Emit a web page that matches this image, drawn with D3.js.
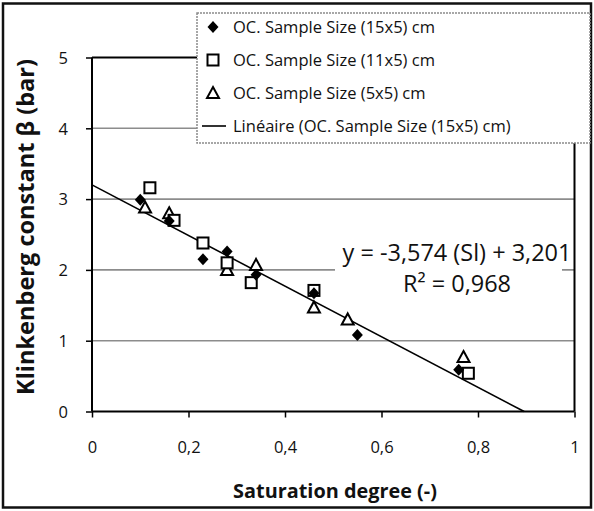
<!DOCTYPE html>
<html><head><meta charset="utf-8">
<script src="https://cdn.jsdelivr.net/npm/d3@7"></script>
<style>body{margin:0;background:#fff}svg{display:block}text{font-family:"Open Sans",Lato,sans-serif}</style>
</head><body><svg id="c" width="594" height="511"></svg>
<script>
const seriesNames = ["OC. Sample Size (15x5) cm","OC. Sample Size (11x5) cm","OC. Sample Size (5x5) cm"];
const s15x = [0.10,0.16,0.23,0.28,0.34,0.46,0.55,0.76];
const s15y = [2.99,2.69,2.15,2.26,1.93,1.67,1.08,0.59];
const s11x = [0.12,0.17,0.23,0.28,0.33,0.46,0.78];
const s11y = [3.16,2.70,2.38,2.10,1.82,1.71,0.54];
const s5x  = [0.11,0.16,0.28,0.34,0.46,0.53,0.77];
const s5y  = [2.88,2.80,2.00,2.07,1.47,1.30,0.77];
const slope = -3.574, intercept = 3.201;
const xTicks = [0,0.2,0.4,0.6,0.8,1];
const yTicks = [0,1,2,3,4,5];
const trendName = "Linéaire (OC. Sample Size (15x5) cm)";
const eqText = "y = -3,574 (Sl) + 3,201";
const r2Text = "R² = 0,968";

const svg = d3.select("#c");
const x = d3.scaleLinear().domain([0,1]).range([92,574.5]);
const y = d3.scaleLinear().domain([0,5]).range([411.5,57.5]);
const fmt = d => String(d).replace(".",",");
function fit(sel, w){ sel.each(function(){ const cur=+this.getAttribute("font-size"); const L=this.getComputedTextLength(); if(L>0) this.setAttribute("font-size",(cur*w/L).toFixed(2)); }); return sel; }

svg.append("rect").attr("x",3).attr("y",3.5).attr("width",588).attr("height",504)
  .attr("fill","none").attr("stroke","#111").attr("stroke-width",2.5);

svg.append("g").selectAll("line").data(yTicks.filter(d=>d>0&&d<5)).join("line")
  .attr("x1",x(0)).attr("x2",x(1)).attr("y1",d=>y(d)).attr("y2",d=>y(d))
  .attr("stroke","#8c8c8c").attr("stroke-width",1.6);
svg.append("line").attr("x1",x(0)).attr("x2",x(1)).attr("y1",y(5)).attr("y2",y(5)).attr("stroke","#000").attr("stroke-width",2);
svg.append("line").attr("x1",x(1)).attr("x2",x(1)).attr("y1",y(5)).attr("y2",y(0)).attr("stroke","#000").attr("stroke-width",2);

const xa = svg.append("g").attr("transform",`translate(0,${y(0)})`)
  .call(d3.axisBottom(x).tickValues(xTicks).tickFormat(fmt).tickSize(6).tickPadding(24));
const ya = svg.append("g").attr("transform",`translate(${x(0)},0)`)
  .call(d3.axisLeft(y).tickValues(yTicks).tickFormat(fmt).tickSize(6).tickPadding(18));
[xa,ya].forEach(a=>{
  a.select(".domain").attr("stroke","#000").attr("stroke-width",2);
  a.selectAll(".tick line").attr("stroke","#000").attr("stroke-width",1.5);
  a.selectAll("text").attr("font-size",16.5).attr("fill","#111").style("font-family",'"Open Sans", sans-serif');
});
xa.selectAll(".domain").attr("d",`M${x(0)},0H${x(1)}`);
ya.selectAll(".domain").attr("d",`M0,${y(0)}V${y(5)}`);
ya.selectAll(".tick text").attr("dy","0.35em");

const xt = svg.append("text").attr("x",335).attr("y",498).attr("text-anchor","middle")
  .attr("font-size",17).attr("font-weight","bold").attr("fill","#111").text("Saturation degree (-)");
fit(xt,204);
const yt = svg.append("text").attr("transform","translate(34,227) rotate(-90)").attr("text-anchor","middle")
  .attr("font-size",17).attr("font-weight","bold").attr("fill","#111").text("Klinkenberg constant β (bar)");
fit(yt,336);

svg.append("rect").attr("x",335).attr("y",236).attr("width",227).attr("height",64).attr("fill","#fff");
const e1 = svg.append("text").attr("x",457).attr("y",261).attr("text-anchor","middle").attr("font-size",18).attr("fill","#111").text(eqText);
fit(e1,229);
const e2 = svg.append("text").attr("x",457).attr("y",292).attr("text-anchor","middle").attr("font-size",+e1.attr("font-size")).attr("fill","#111").text(r2Text);

const xEnd = -intercept/slope;
svg.append("line").attr("x1",x(0)).attr("y1",y(intercept)).attr("x2",x(xEnd)).attr("y2",y(slope*xEnd+intercept))
  .attr("stroke","#000").attr("stroke-width",1.6);

function drawDiamond(g,cx,cy){ g.append("path").attr("transform",`translate(${cx},${cy})`)
  .attr("d",`M0,-6L5.5,0L0,6L-5.5,0Z`).attr("fill","#000"); }
function drawSquare(g,cx,cy){ g.append("rect").attr("x",cx-5.5).attr("y",cy-5.5).attr("width",11).attr("height",11)
  .attr("fill","#fff").attr("stroke","#000").attr("stroke-width",2); }
function drawTri(g,cx,cy){ g.append("path").attr("transform",`translate(${cx},${cy})`)
  .attr("d",`M0,-6L6,5L-6,5Z`).attr("fill","#fff").attr("stroke","#000").attr("stroke-width",2); }

const gp = svg.append("g");
s5x.forEach((v,i)=>drawTri(gp,x(v),y(s5y[i])));
s11x.forEach((v,i)=>drawSquare(gp,x(v),y(s11y[i])));
s15x.forEach((v,i)=>drawDiamond(gp,x(v),y(s15y[i])));

const lg = svg.append("g");
lg.append("rect").attr("x",197).attr("y",13).attr("width",393).attr("height",130)
  .attr("fill","#fff").attr("stroke","#8a8a8a").attr("stroke-width",1.5).attr("stroke-dasharray","2,1");
const rows = [27,60,93,126];
const draws = [drawDiamond, drawSquare, drawTri];
const lt = [];
seriesNames.forEach((n,i)=>{
  draws[i](lg,213,rows[i]);
  lt.push(lg.append("text").attr("x",233).attr("y",rows[i]).attr("dy","0.35em").attr("font-size",17).attr("fill","#111").text(n));
});
lg.append("line").attr("x1",202).attr("x2",226).attr("y1",rows[3]).attr("y2",rows[3]).attr("stroke","#000").attr("stroke-width",1.6);
const l4 = lg.append("text").attr("x",233).attr("y",rows[3]).attr("dy","0.35em").attr("font-size",17).attr("fill","#111").text(trendName);
fit(lt[0],202);
const lfs = +lt[0].attr("font-size");
lt.forEach(t=>t.attr("font-size",lfs)); l4.attr("font-size",lfs);
</script></body></html>
